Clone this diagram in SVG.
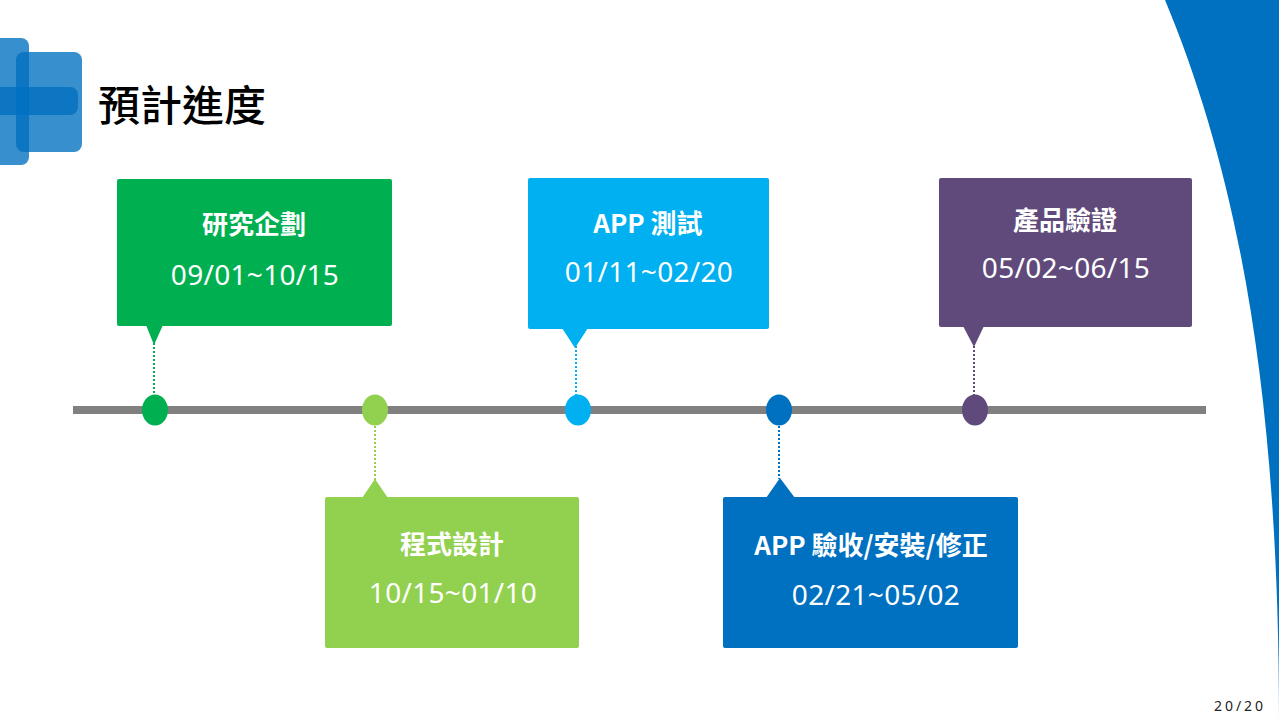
<svg xmlns="http://www.w3.org/2000/svg" width="1279" height="720" viewBox="0 0 1279 720">
<style>
.t{font-family:"Noto Sans CJK TC","Noto Sans",sans-serif;font-weight:bold;font-size:26px;fill:#fff;text-anchor:middle}
.d{font-family:"Noto Sans","Open Sans",sans-serif;font-size:28px;fill:#fff;text-anchor:middle;letter-spacing:0.3px}
.dot{stroke-width:2;stroke-dasharray:2 2;fill:none}
.logo{fill:#0070C0;opacity:0.78}
</style>
<rect width="1279" height="720" fill="#fff"/>
<path d="M1165,0 C1240,180 1279,400 1279,720 L1279,0 Z" fill="#0070C0"/>
<g id="logo">
<rect class="logo" x="-12" y="38" width="41" height="127" rx="8"/>
<rect class="logo" x="16" y="52" width="66" height="100" rx="8"/>
<rect class="logo" x="-10" y="87" width="88" height="28" rx="8"/>
</g>
<text x="98" y="121" font-family="'Noto Sans CJK TC',sans-serif" font-size="42" font-weight="500" fill="#000">預計進度</text>
<g id="connectors">
<rect x="73" y="406" width="1133" height="8" fill="#808080"/>
<line class="dot" x1="154" y1="343" x2="154" y2="396" stroke="#00B050"/>
<line class="dot" x1="375" y1="426" x2="375" y2="480" stroke="#92D050"/>
<line class="dot" x1="576" y1="346" x2="576" y2="396" stroke="#00B0F0"/>
<line class="dot" x1="779" y1="426" x2="779" y2="479" stroke="#0070C0"/>
<line class="dot" x1="974" y1="346" x2="974" y2="396" stroke="#604A7B"/>
</g>
<g id="n1">
<ellipse cx="155" cy="410" rx="13" ry="15.5" fill="#00B050"/>
<rect x="117" y="179" width="275" height="147" rx="2" fill="#00B050"/>
<polygon points="146,325 163,325 154,345" fill="#00B050"/>
<text class="t" x="254" y="234">研究企劃</text>
<text class="d" x="255" y="285">09/01~10/15</text>
</g>
<g id="n2">
<ellipse cx="375" cy="410" rx="13" ry="15.5" fill="#92D050"/>
<rect x="325" y="497" width="254" height="151" rx="2" fill="#92D050"/>
<polygon points="362,498 388,498 375,479" fill="#92D050"/>
<text class="t" x="452" y="554">程式設計</text>
<text class="d" x="453" y="603">10/15~01/10</text>
</g>
<g id="n3">
<ellipse cx="578" cy="410" rx="13" ry="15.5" fill="#00B0F0"/>
<rect x="528" y="178" width="241" height="151" rx="2" fill="#00B0F0"/>
<polygon points="562,328 588,328 575,348" fill="#00B0F0"/>
<text class="t" x="648" y="233">APP 測試</text>
<text class="d" x="649" y="282">01/11~02/20</text>
</g>
<g id="n4">
<ellipse cx="779" cy="410" rx="13" ry="15.5" fill="#0070C0"/>
<rect x="723" y="497" width="295" height="151" rx="2" fill="#0070C0"/>
<polygon points="766,498 795,498 780,478" fill="#0070C0"/>
<text class="t" x="871" y="555">APP 驗收/安裝/修正</text>
<text class="d" x="876" y="605">02/21~05/02</text>
</g>
<g id="n5">
<ellipse cx="975" cy="410" rx="13" ry="15.5" fill="#604A7B"/>
<rect x="939" y="178" width="253" height="149" rx="2" fill="#604A7B"/>
<polygon points="963,326 984,326 974,347" fill="#604A7B"/>
<text class="t" x="1065" y="230">產品驗證</text>
<text class="d" x="1066" y="278">05/02~06/15</text>
</g>
<text x="1240" y="711" font-family="'Noto Sans',sans-serif" font-size="14" fill="#222" text-anchor="middle" letter-spacing="3">20/20</text>
</svg>
